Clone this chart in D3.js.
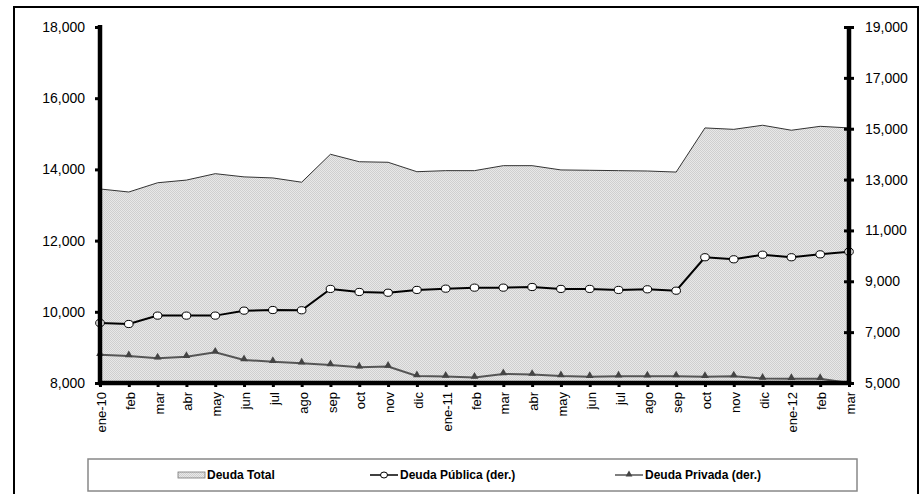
<!DOCTYPE html>
<html>
<head>
<meta charset="utf-8">
<script src="https://cdn.jsdelivr.net/npm/d3@7"></script>
<style>
  body { margin: 0; background: #fff; }
  svg { display: block; font-family: "Liberation Sans", Arial, sans-serif; }
</style>
</head>
<body>
<svg id="chart" width="923" height="494"></svg>
<script>
// Monthly labels, Jan-2010 .. Mar-2012
const months = ["ene-10","feb","mar","abr","may","jun","jul","ago","sep","oct","nov","dic",
  "ene-11","feb","mar","abr","may","jun","jul","ago","sep","oct","nov","dic",
  "ene-12","feb","mar"];

// Deuda Total (left axis)
const deudaTotal = [13450,13365,13625,13700,13880,13790,13760,13640,14425,14215,14200,13935,
  13965,13965,14105,14105,13985,13975,13965,13955,13925,15165,15125,15240,15100,15210,15165];

// Deuda Publica (right axis)
const deudaPublica = [7360,7320,7650,7650,7650,7845,7870,7860,8700,8580,8550,8660,
  8710,8750,8750,8775,8700,8700,8660,8685,8630,9945,9865,10045,9945,10060,10165];

// Deuda Privada (right axis)
const deudaPrivada = [6115,6060,5970,6035,6205,5905,5840,5775,5710,5620,5650,5275,
  5260,5215,5355,5330,5275,5250,5265,5265,5270,5250,5270,5180,5165,5165,5000];

const leftTicks = [8000,10000,12000,14000,16000,18000];
const rightTicks = [5000,7000,9000,11000,13000,15000,17000,19000];

const svg = d3.select('#chart');
const fmt = d3.format(',');

// pattern used for the area fill
const defs = svg.append('defs');
const pat = defs.append('pattern')
    .attr('id', 'dots')
    .attr('width', 2).attr('height', 2)
    .attr('patternUnits', 'userSpaceOnUse');
pat.append('rect').attr('width', 2).attr('height', 2).attr('fill', '#e8e8e8');
pat.append('rect').attr('width', 1).attr('height', 1).attr('fill', '#cfcfcf');
pat.append('rect').attr('x', 1).attr('y', 1).attr('width', 1).attr('height', 1).attr('fill', '#cfcfcf');

// outer frame
svg.append('rect')
    .attr('x', 14).attr('y', 7)
    .attr('width', 904).attr('height', 500)
    .attr('fill', 'none')
    .attr('stroke', '#000')
    .attr('stroke-width', 2);

const plotL = 100, plotR = 849, plotT = 27, plotB = 383;

const xScale = d3.scalePoint().domain(d3.range(months.length)).range([plotL, plotR]);
const yLeft = d3.scaleLinear().domain([8000, 18000]).range([plotB, plotT]);
const yRight = d3.scaleLinear().domain([5000, 19000]).range([plotB, plotT]);

// area
const area = d3.area()
    .x((d, i) => xScale(i))
    .y0(yLeft(8000))
    .y1(d => yLeft(d));
svg.append('path')
    .datum(deudaTotal)
    .attr('d', area)
    .attr('fill', 'url(#dots)');
svg.append('path')
    .datum(deudaTotal)
    .attr('d', d3.line().x((d, i) => xScale(i)).y(d => yLeft(d)))
    .attr('fill', 'none')
    .attr('stroke', '#333')
    .attr('stroke-width', 1);

// Deuda Privada
const lineR = d3.line().x((d, i) => xScale(i)).y(d => yRight(d));
svg.append('path')
    .datum(deudaPrivada)
    .attr('d', lineR)
    .attr('fill', 'none')
    .attr('stroke', '#555')
    .attr('stroke-width', 2);
svg.selectAll('.tri')
    .data(deudaPrivada)
    .join('path')
    .attr('class', 'tri')
    .attr('d', d3.symbol().type(d3.symbolTriangle).size(26))
    .attr('transform', (d, i) => `translate(${xScale(i)},${yRight(d) - 1})`)
    .attr('fill', '#444');

// Deuda Publica
svg.append('path')
    .datum(deudaPublica)
    .attr('d', lineR)
    .attr('fill', 'none')
    .attr('stroke', '#000')
    .attr('stroke-width', 2);
svg.selectAll('.dot')
    .data(deudaPublica)
    .join('ellipse')
    .attr('class', 'dot')
    .attr('cx', (d, i) => xScale(i))
    .attr('cy', d => yRight(d))
    .attr('rx', 4.3).attr('ry', 3.6)
    .attr('fill', '#fff')
    .attr('stroke', '#000')
    .attr('stroke-width', 1);

// Left axis
const yAxisL = d3.axisLeft(yLeft).tickValues(leftTicks).tickFormat(fmt).tickSize(5).tickPadding(10);
const gL = svg.append('g').attr('transform', `translate(${plotL},0)`).call(yAxisL);
gL.select('.domain').remove();
gL.selectAll('.tick line').attr('stroke-width', 3);
gL.selectAll('text').attr('font-size', 14).attr('fill', '#000');
svg.append('line')
    .attr('x1', plotL).attr('x2', plotL)
    .attr('y1', plotT - 2).attr('y2', plotB + 2)
    .attr('stroke', '#000').attr('stroke-width', 4.5);

// Right axis
const yAxisR = d3.axisRight(yRight).tickValues(rightTicks).tickFormat(fmt).tickSize(5).tickPadding(11);
const gR = svg.append('g').attr('transform', `translate(${plotR},0)`).call(yAxisR);
gR.select('.domain').remove();
gR.selectAll('.tick line').attr('x1', -5).attr('stroke-width', 3);
gR.selectAll('text').attr('font-size', 14).attr('fill', '#000');
svg.append('line')
    .attr('x1', plotR).attr('x2', plotR)
    .attr('y1', plotT - 1).attr('y2', plotB + 2)
    .attr('stroke', '#000').attr('stroke-width', 4.5);

// Bottom axis
const xAxis = d3.axisBottom(xScale).tickFormat(i => months[i]).tickSize(4).tickPadding(7);
const gX = svg.append('g').attr('transform', `translate(0,${plotB})`).call(xAxis);
gX.select('.domain').remove();
gX.selectAll('.tick line').attr('stroke-width', 3);
gX.selectAll('text')
    .attr('font-size', 13)
    .attr('fill', '#000')
    .attr('transform', 'rotate(-90)')
    .attr('text-anchor', 'end')
    .attr('x', -9)
    .attr('y', 1)
    .attr('dy', '0.35em');
svg.append('line')
    .attr('x1', plotL - 2).attr('x2', plotR + 2)
    .attr('y1', plotB).attr('y2', plotB)
    .attr('stroke', '#000').attr('stroke-width', 4.5);

// Legend
const lg = svg.append('g');
lg.append('rect')
    .attr('x', 88).attr('y', 459)
    .attr('width', 769).attr('height', 32)
    .attr('fill', '#fff')
    .attr('stroke', '#888')
    .attr('stroke-width', 1.5);
const ly = 475;
lg.append('rect')
    .attr('x', 178).attr('y', ly - 3)
    .attr('width', 27).attr('height', 6)
    .attr('fill', 'url(#dots)')
    .attr('stroke', '#777').attr('stroke-width', 0.8);
lg.append('line').attr('x1', 370).attr('x2', 398).attr('y1', ly).attr('y2', ly)
    .attr('stroke', '#000').attr('stroke-width', 1.5);
lg.append('ellipse').attr('cx', 384).attr('cy', ly).attr('rx', 3.5).attr('ry', 3)
    .attr('fill', '#fff').attr('stroke', '#000').attr('stroke-width', 1);
lg.append('line').attr('x1', 615).attr('x2', 643).attr('y1', ly).attr('y2', ly)
    .attr('stroke', '#555').attr('stroke-width', 1.5);
lg.append('path')
    .attr('d', d3.symbol().type(d3.symbolTriangle).size(20))
    .attr('transform', `translate(629,${ly - 0.5})`)
    .attr('fill', '#444');
const legendItems = [
  {x: 207, label: 'Deuda Total'},
  {x: 400, label: 'Deuda Pública (der.)'},
  {x: 645, label: 'Deuda Privada (der.)'}
];
lg.selectAll('.ltext')
    .data(legendItems)
    .join('text')
    .attr('class', 'ltext')
    .attr('x', d => d.x)
    .attr('y', ly)
    .attr('dy', '0.35em')
    .attr('font-size', 12)
    .attr('font-weight', 'bold')
    .text(d => d.label);
</script>
</body>
</html>
